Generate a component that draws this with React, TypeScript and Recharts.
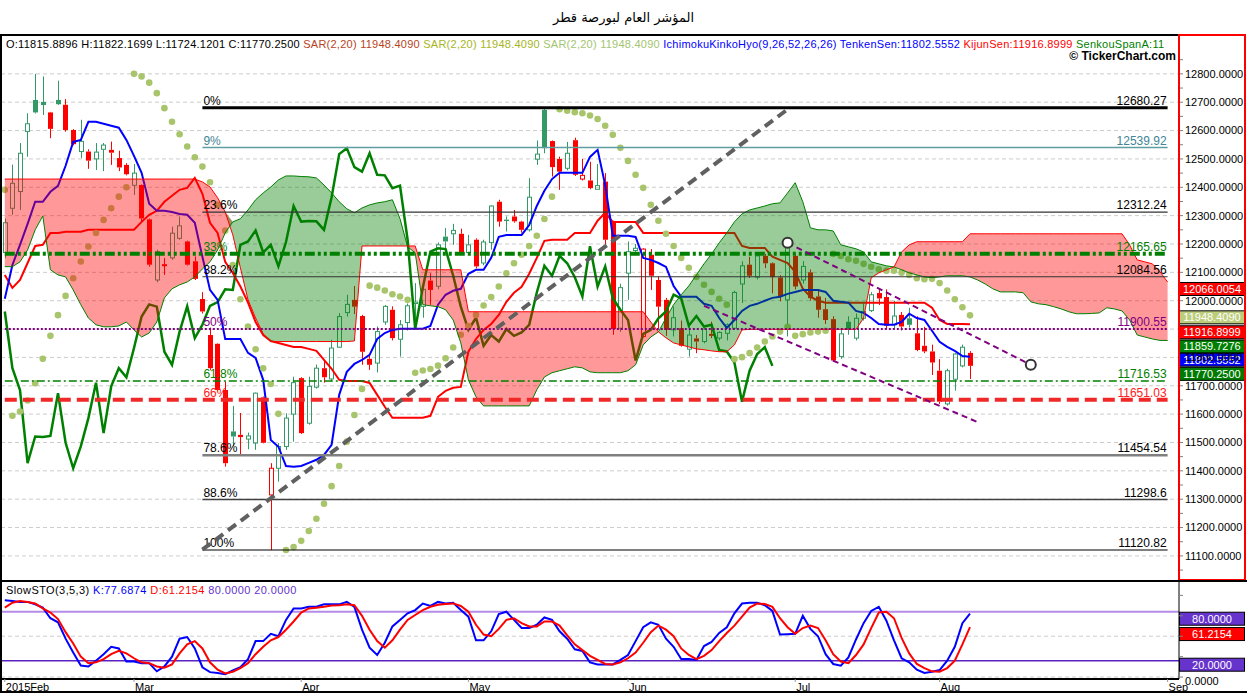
import React from "react";
import {
  ComposedChart,
  Bar,
  Line,
  Area,
  Scatter,
  XAxis,
  YAxis,
  CartesianGrid,
  ReferenceLine,
  ReferenceDot,
} from "recharts";

const FONT = '"Liberation Sans", Arial, sans-serif';
const GREEN = "#339966";
const RED = "#ff0000";

// daily candles, Feb 2015 - Aug 2015
const opens = [
  12170, 12326, 12385, 12597, 12708, 12701, 12664, 12708, 12691, 12602,
  12526, 12526, 12500, 12534, 12532, 12503, 12479, 12407, 12408, 12287,
  12073, 12125, 12151, 12220, 12209, 12139, 12006, 11879, 11848, 11685,
  11539, 11527, 11512, 11498, 11659, 11315, 11409, 11486, 11600, 11727,
  11568, 11695, 11762, 11724, 11836, 11958, 12003, 11946, 11795, 11780,
  11925, 11968, 11864, 11923, 11990, 11980, 12071, 12051, 12226, 12236,
  12236, 12170, 12215, 12133, 12205, 12349, 12286, 12297, 12279, 12250,
  12499, 12673, 12563, 12500, 12467, 12566, 12429, 12424, 12393, 12420,
  12279, 11903, 12097, 12177, 11874, 12162, 12073, 12003, 11897, 11903,
  11829, 11867, 11856, 11883, 11868, 11885, 11903, 12059, 12127, 12083,
  12158, 12132, 12082, 12003, 12158, 12073, 12100, 12015, 11970, 11935,
  11803, 11926, 11868, 11938, 11965, 12027, 12013, 11915, 11950, 11938,
  11885, 11841, 11821, 11753, 11636, 11723, 11770, 11815.89,
];
const highs = [
  12290, 12480, 12556, 12661, 12800, 12791, 12666, 12776, 12711, 12605,
  12638, 12534, 12556, 12556, 12561, 12529, 12485, 12482, 12410, 12290,
  12180, 12151, 12261, 12297, 12212, 12156, 12030, 11905, 11850, 11715,
  11629, 11604, 11535, 11676, 11662, 11427, 11498, 11603, 11732, 11730,
  11732, 11775, 11791, 11862, 11956, 12021, 12052, 11950, 11809, 11909,
  11985, 11980, 11932, 11990, 12062, 12062, 12097, 12205, 12256, 12271,
  12254, 12232, 12220, 12215, 12336, 12356, 12297, 12320, 12282, 12432,
  12565, 12680.27, 12565, 12508, 12560, 12575, 12500, 12490, 12482, 12450,
  12282, 12060, 12209, 12200, 12185, 12182, 12085, 12010, 11979, 11930,
  11921, 11879, 11905, 11926, 11892, 11920, 12035, 12139, 12155, 12165,
  12165, 12135, 12090, 12204, 12165, 12140, 12110, 12040, 12010, 11945,
  11900, 11945, 11955, 11990, 12030, 12040, 12040, 12000, 11960, 11975,
  11945, 11908, 11845, 11794, 11760, 11815, 11845, 11822.17,
];
const lows = [
  12150, 12303, 12320, 12508, 12660, 12655, 12573, 12690, 12596, 12548,
  12503, 12465, 12461, 12457, 12479, 12457, 12442, 12373, 12279, 12120,
  12065, 12091, 12144, 12215, 12124, 12073, 11955, 11755, 11680, 11415,
  11486, 11456, 11476, 11474, 11497, 11120.82, 11362, 11474, 11503, 11530,
  11563, 11690, 11711, 11715, 11833, 11944, 11953, 11774, 11756, 11747,
  11915, 11860, 11803, 11895, 11904, 11940, 11985, 12040, 12173, 12197,
  12165, 12162, 12114, 12125, 12180, 12261, 12244, 12275, 12240, 12244,
  12479, 12520, 12438, 12391, 12460, 12440, 12424, 12393, 12392, 12200,
  11880, 11890, 12003, 12160, 11870, 12038, 11903, 11876, 11874, 11838,
  11803, 11815, 11850, 11868, 11860, 11860, 11897, 11992, 12080, 12075,
  12115, 12026, 11998, 11874, 12040, 12060, 12000, 11940, 11918, 11785,
  11795, 11880, 11860, 11930, 11960, 11985, 11900, 11900, 11895, 11905,
  11822, 11815, 11738, 11636, 11630, 11683, 11765, 11724.12,
];
const closes = [
  12275, 12414, 12520, 12624, 12664, 12690, 12606, 12693, 12602, 12552,
  12562, 12494, 12524, 12549, 12522, 12470, 12446, 12450, 12290, 12127,
  12173, 12127, 12238, 12264, 12127, 12077, 11962, 11762, 11685, 11427,
  11521, 11519, 11523, 11674, 11499, 11409, 11486, 11586, 11711, 11533,
  11698, 11762, 11730, 11833, 11944, 11987, 11979, 11820, 11774, 11891,
  11980, 11868, 11915, 11982, 11995, 12040, 12038, 12197, 12209, 12248,
  12170, 12197, 12121, 12207, 12334, 12279, 12281, 12280, 12250, 12365,
  12517, 12538, 12471, 12455, 12520, 12444, 12442, 12397, 12406, 12215,
  11900, 12046, 12173, 12185, 12182, 12088, 11979, 11897, 11940, 11841,
  11879, 11856, 11900, 11876, 11888, 11915, 12029, 12123, 12088, 12158,
  12132, 12083, 12015, 12192, 12050, 12121, 12009, 11968, 11932, 11789,
  11883, 11897, 11938, 11962, 12021, 12008, 11912, 11946, 11909, 11915,
  11826, 11821, 11782, 11644, 11753, 11812, 11836, 11770.25,
];

const tenkan = [
  12007, 12126, 12197, 12271, 12349, 12349, 12384, 12405, 12476, 12560,
  12567, 12631, 12631, 12624, 12617, 12610, 12567, 12511, 12451, 12342,
  12317, 12317, 12313, 12306, 12303, 12275, 12155, 12038, 12003, 11865,
  11865, 11865, 11816, 11798, 11721, 11509, 11485, 11417, 11414, 11417,
  11428, 11439, 11456, 11492, 11668, 11749, 11777, 11791, 11809, 11865,
  11886, 11897, 11901, 11901, 11901, 11901, 11911, 11986, 12021, 12035,
  12042, 12095, 12109, 12109, 12151, 12225, 12232, 12232, 12232, 12267,
  12334, 12388, 12429, 12451, 12451, 12451, 12451, 12507, 12532, 12408,
  12229, 12229, 12229, 12225, 12151, 12144, 12133, 12119, 12052, 12014,
  12014, 12014, 11989, 11982, 11939, 11904, 11932, 11964, 11982, 11989,
  12000, 12010, 12014, 12024, 12031, 12038, 12038, 12038, 12031, 12000,
  11996, 11993, 11964, 11957, 11939, 11918, 11915, 11915, 11925, 11954,
  11939, 11932, 11894, 11855, 11837, 11823, 11805, 11802.56,
];
const kijun = [
  12091, 12045, 12073, 12133, 12193, 12197, 12239, 12239, 12243, 12243,
  12243, 12250, 12250, 12250, 12250, 12250, 12250, 12250, 12278, 12303,
  12317, 12349, 12370, 12391, 12398, 12433, 12377, 12275, 12239, 12137,
  12098, 12050, 11993, 11925, 11879, 11858, 11851, 11844, 11837, 11837,
  11830, 11823, 11791, 11760, 11721, 11717, 11717, 11717, 11710, 11668,
  11626, 11587, 11587, 11587, 11587, 11587, 11594, 11661, 11682, 11693,
  11696, 11820, 11865, 11897, 11918, 11950, 11996, 12028, 12049, 12095,
  12151, 12211, 12215, 12215, 12215, 12239, 12239, 12239, 12282, 12310,
  12278, 12278, 12278, 12278, 12239, 12239, 12239, 12239, 12239, 12239,
  12239, 12239, 12239, 12239, 12239, 12239, 12239, 12193, 12186, 12186,
  12186, 12155, 12144, 12133, 12102, 12042, 12014, 12000, 11993, 11993,
  11993, 11993, 11993, 11993, 11993, 11993, 11993, 11993, 11993, 11993,
  11993, 11993, 11975, 11932, 11918, 11918, 11918, 11916.9,
];
// senkou spans, already shifted 26 bars forward
const spanA = [
  12120, 12120, 12137, 12179, 12250, 12299, 12109, 12091, 12084, 12038,
  11986, 11939, 11915, 11908, 11908, 11911, 11925, 11897, 11872, 11886,
  11925, 12010, 12042, 12056, 12066, 12084, 12112, 12137, 12179, 12239,
  12278, 12289, 12320, 12356, 12380, 12401, 12426, 12440, 12440, 12438,
  12437, 12433, 12408, 12380, 12349, 12324, 12310, 12327, 12338, 12345,
  12349, 12356, 12289, 12190, 12169, 11986, 11982, 11979, 11968, 11932,
  11851, 11721, 11661, 11629, 11629, 11629, 11629, 11629, 11629, 11629,
  11686, 11731, 11746, 11753, 11760, 11767, 11763, 11749, 11746, 11746,
  11746, 11746, 11753, 11774, 11844, 11872, 11890, 11939, 11986, 12021,
  12052, 12091, 12130, 12165, 12204, 12239, 12278, 12306, 12320, 12327,
  12334, 12342, 12345, 12380, 12416, 12349, 12257, 12250, 12250, 12246,
  12197, 12190, 12183, 12172, 12137, 12130, 12123, 12119, 12109, 12098,
  12091, 12084, 12081, 12084, 12088, 12088, 12088, 12084, 12073, 12059,
  12042, 12031, 12031, 12031, 12028, 11996, 11989, 11986, 11979, 11971,
  11961, 11954, 11954, 11955, 11957, 11975, 11971, 11964, 11932, 11879,
  11872, 11865, 11860, 11859.73,
];
const spanB = [
  12429, 12429, 12429, 12429, 12429, 12429, 12429, 12429, 12429, 12429,
  12429, 12429, 12429, 12429, 12429, 12429, 12429, 12429, 12429, 12429,
  12429, 12429, 12429, 12429, 12429, 12429, 12419, 12401, 12363, 12313,
  12232, 12116, 12003, 11939, 11883, 11856, 11856, 11856, 11856, 11856,
  11856, 11856, 11856, 11856, 11856, 11856, 11858, 12193, 12193, 12193,
  12193, 12193, 12193, 12193, 12193, 12109, 12109, 12109, 12109, 12109,
  12109, 11961, 11961, 11961, 11961, 11961, 11961, 11961, 11961, 11961,
  11961, 11961, 11961, 11961, 11961, 11961, 11961, 11961, 11961, 11961,
  11961, 11961, 11961, 11961, 11961, 11925, 11890, 11869, 11851, 11844,
  11837, 11830, 11827, 11823, 11820, 11820, 11844, 11897, 11899, 11899,
  11899, 11899, 11899, 11899, 11899, 11899, 11899, 11899, 11899, 11899,
  11899, 11899, 11899, 11939, 12081, 12098, 12109, 12119, 12172, 12197,
  12208, 12208, 12208, 12208, 12208, 12208, 12208, 12236, 12236, 12236,
  12236, 12236, 12236, 12236, 12236, 12236, 12236, 12236, 12236, 12236,
  12236, 12236, 12236, 12236, 12236, 12236, 12236, 12236, 12197, 12144,
  12137, 12130, 12102, 12066.01,
];
const sar = [
  12391, 11594, 11609, 11648, 11709, 11795, 11876, 11949, 12017, 12079,
  12138, 12191, 12239, 12285, 12326, 12367, 12400, 12800, 12791, 12769,
  12732, 12679, 12631, 12587, 12544, 12506, 12473, 12418, 12338, 12247,
  12126, 12005, 11909, 11829, 11762, 11706, 11601, 11121, 11131, 11153,
  11188, 11231, 11284, 11346, 11417, 11503, 11597, 11689, 12053, 12046,
  12036, 12023, 12015, 12003, 11746, 11754, 11759, 11771, 11797, 11835,
  11880, 11911, 11950, 11983, 12013, 12050, 12097, 12132, 12162, 12193,
  12229, 12288, 12367, 12675, 12670, 12665, 12661, 12653, 12641, 12617,
  12585, 12539, 12493, 12444, 12398, 12338, 12282, 12236, 12193, 12151,
  12116, 12084, 12056, 12031, 12007, 11986, 11794, 11801, 11815, 11835,
  11856, 11874, 11891, 11908, 11876, 11882, 11888, 11891, 11894, 12165,
  12158, 12146, 12141, 12130, 12120, 12111, 12106, 12106, 12099, 12091,
  12079, 12076, 12077, 12062, 12036, 12005, 11977, 11948.41,
];

const stochK = [
  94, 93, 92, 92, 89, 85, 72, 67, 47, 30,
  14, 13, 20, 28, 37, 35, 19, 19, 17, 17,
  7, 13, 25, 47, 49, 35, 12, 6, 5, 3.5,
  8, 12, 22, 44, 44, 53, 50, 70, 84, 84,
  86, 86, 89, 89, 89, 92, 86, 58, 36, 27,
  42, 62, 70, 78, 82, 90, 87, 92, 90, 91,
  82, 74, 45, 45, 56, 77, 80, 70, 60, 60,
  64, 73, 70, 56, 47, 34, 32, 18, 15.5, 15.5,
  15.5, 21, 27, 44, 61, 67, 64, 47, 37, 22,
  22, 21, 38, 43, 54, 61, 78, 90, 91, 91,
  88, 81, 52, 52.5, 53, 75, 59, 50, 28, 16,
  14, 24, 46, 66, 81, 86, 69, 45, 23, 18,
  9, 5, 6.5, 8.5, 20, 37, 66, 77.6874,
];
const stochD = [
  85, 91, 93, 92, 90, 84, 79, 71, 55, 41,
  25, 17, 18, 22, 28, 32, 29, 23, 18, 17,
  13, 11.5, 15.5, 29, 40, 44, 35, 18, 9, 4.5,
  6.5, 11, 17, 28, 37, 45, 49, 58, 68, 79,
  84, 85, 86, 87.5, 88, 89, 88, 75, 58, 44,
  36, 45, 58, 70, 76, 82, 86, 88.5, 89.5, 90.2,
  87, 80, 64, 52, 50, 59, 70, 72, 66, 62,
  62, 68, 68, 63, 51, 40, 33, 26, 21, 16,
  15.5, 18, 23, 30, 42, 55, 63, 58, 50, 35,
  27, 22, 26, 33, 44, 54, 63, 74, 85, 90,
  89.5, 86, 72, 61, 53, 60, 63, 60, 45, 28,
  19, 17, 27, 40, 60, 79, 80, 72, 48, 29,
  16, 11, 7, 6.5, 11, 20, 40, 61.2154,
];

const monthTicks = [0, 17, 39, 61, 82, 104, 123, 153];
const monthLabels = ["2015Feb", "Mar", "Apr", "May", "Jun", "Jul", "Aug", "Sep"];

const priceTicks = [
  11050, 11100, 11150, 11200, 11250, 11300, 11350, 11400, 11450, 11500,
  11550, 11600, 11650, 11700, 11750, 11800, 11850, 11900, 11950, 12000,
  12050, 12100, 12150, 12200, 12250, 12300, 12350, 12400, 12450, 12500,
  12550, 12600, 12650, 12700, 12750, 12800, 12850,
];
const priceGrid = [
  11100, 11200, 11300, 11400, 11500, 11600, 11700, 11800, 11900, 12000,
  12100, 12200, 12300, 12400, 12500, 12600, 12700, 12800,
];
// labels that sit fully under the last-value boxes are not drawn
const hiddenPriceLabels = [11900];

const fibPercents = ["0%", "9%", "23.6%", "33%", "38.2%", "50%", "61.8%", "66%", "78.6%", "88.6%", "100%"];
const fibValues = [12680.27, 12539.92, 12312.24, 12165.65, 12084.56, 11900.55, 11716.53, 11651.03, 11454.54, 11298.6, 11120.82];
const fibStart = 26;
const fibEnd = 153;

const fibStyles = [
  { stroke: "#000000", width: 3, dash: undefined, text: "#000000", wide: false },
  { stroke: "#5f9ea0", width: 1.5, dash: undefined, text: "#3f8595", wide: false },
  { stroke: "#333333", width: 1.2, dash: undefined, text: "#000000", wide: false },
  { stroke: "#008000", width: 4, dash: "10 3 3 3 3 3", text: "#008000", wide: true },
  { stroke: "#333333", width: 1.2, dash: undefined, text: "#000000", wide: false },
  { stroke: "#800080", width: 2, dash: "2 2", text: "#800080", wide: true },
  { stroke: "#008000", width: 1.5, dash: "8 3 2 3", text: "#008000", wide: true },
  { stroke: "#f02828", width: 4, dash: "12 6", text: "#ff2020", wide: true },
  { stroke: "#808080", width: 2.5, dash: undefined, text: "#000000", wide: false },
  { stroke: "#404040", width: 1.5, dash: undefined, text: "#000000", wide: false },
  { stroke: "#000000", width: 1.2, dash: undefined, text: "#000000", wide: false },
];

// trend lines: [index, price]
const trendFrom = [[26, 11122], [103, 12204], [92, 11982]];
const trendTo = [[103, 12675], [135, 11774], [128, 11572]];
const trendStyles = [
  { stroke: "#606060", width: 4, dash: "10 6" },
  { stroke: "#800080", width: 2, dash: "6 4" },
  { stroke: "#800080", width: 2, dash: "6 4" },
];
const anchorPoints = [[103, 12204], [135, 11774]];

const lastValues = [12066.0054, 11948.409, 11916.8999, 11859.7276, 11802.5552, 11770.25];
const lastColors = ["#ff0000", "#bccd7c", "#ff0000", "#008000", "#0000ff", "#007a00"];
// vertical nudge of each price box so the boxes stack without covering each other
const lastNudge = [0, -5, 1, -1, -4, 1];

const rows = Array.from({ length: 155 }, (_, i) => ({
  i,
  o: opens[i] ?? null,
  h: highs[i] ?? null,
  l: lows[i] ?? null,
  c: closes[i] ?? null,
  pc: i > 0 ? closes[i - 1] ?? null : null,
  tenkan: tenkan[i] ?? null,
  kijun: kijun[i] ?? null,
  chikou: closes[i + 26] ?? null,
  a: spanA[i] ?? null,
  b: spanB[i] ?? null,
  sar: sar[i] ?? null,
  k: stochK[i] ?? null,
  d: stochD[i] ?? null,
}));

const candleRange = (r: any) => (r.h == null ? null : [r.l, r.h]);
const greenCloud = (r: any) => (r.a == null ? null : [r.b, Math.max(r.a, r.b)]);
const redCloud = (r: any) => (r.a == null ? null : [r.a, Math.max(r.a, r.b)]);

function Candle(props: any) {
  const { x, y, width, height, payload } = props;
  if (!payload || payload.o == null || !Number.isFinite(y) || !Number.isFinite(height)) return <g />;
  const { o, h, l, c, pc } = payload;
  const top = Math.min(y, y + height);
  const bottom = Math.max(y, y + height);
  const span = h - l;
  const py = (v: number) => (span > 0 ? top + ((h - v) / span) * (bottom - top) : top);
  const hollow = c >= o;
  const color = pc == null || c >= pc ? GREEN : RED;
  const cx = Math.round(x + width / 2) + 0.5;
  const yo = py(o);
  const yc = py(c);
  const bt = Math.min(yo, yc);
  const bh = Math.max(Math.abs(yo - yc), 1);
  const bw = 5;
  return (
    <g>
      <line x1={cx} x2={cx} y1={py(h)} y2={bt} stroke={color} strokeWidth={1} />
      <line x1={cx} x2={cx} y1={bt + bh} y2={py(l)} stroke={color} strokeWidth={1} />
      {hollow ? (
        <rect x={cx - 2} y={bt} width={bw - 1} height={Math.max(bh, 1)} fill="none" stroke={color} strokeWidth={1} />
      ) : (
        <rect x={cx - 2.5} y={bt} width={bw} height={bh} fill={color} />
      )}
    </g>
  );
}

const SarDot = (p: any) =>
  p.payload?.sar == null || !Number.isFinite(p.cy) ? <g /> : <circle cx={p.cx} cy={p.cy} r={3.3} fill="#a9c56b" />;

const fibLabel = (j: number) => (p: any) => {
  const vb = p.viewBox;
  if (!vb || vb.x == null) return null;
  const s = fibStyles[j];
  return (
    <g>
      <text x={vb.x + 1} y={vb.y - 3} fill={s.text} fontSize={12} fontFamily={FONT}>
        {fibPercents[j]}
      </text>
      <text x={vb.x + vb.width - 1} y={vb.y - 3} textAnchor="end" fill={s.text} fontSize={12} fontFamily={FONT}>
        {String(fibValues[j])}
      </text>
    </g>
  );
};

const valueBox = (text: string, bg: string, dy = 0) => (p: any) => {
  const vb = p.viewBox;
  if (!vb || vb.x == null) return null;
  const x = vb.x + vb.width;
  const y = vb.y + dy;
  return (
    <g>
      <rect x={x + 0.5} y={y + 0.5} width={65} height={13} fill={bg} stroke="#000" strokeWidth={1} />
      <text x={x + 33} y={y + 11} textAnchor="middle" fill="#fff" fontSize={11} fontFamily={FONT}>
        {text}
      </text>
    </g>
  );
};

const MonthTick = (p: any) => {
  const idx = monthTicks.indexOf(p.payload?.value);
  return (
    <text x={p.x + 1} y={p.y + 9} fontSize={11} fontFamily={FONT} fill="#000">
      {monthLabels[idx] ?? ""}
    </text>
  );
};

function MainPane() {
  return (
    <ComposedChart width={1247} height={580} data={rows} margin={{ top: 37, right: 0, bottom: 0, left: 1 }}>
      <CartesianGrid vertical={false} horizontalValues={priceGrid} stroke="#cccccc" strokeDasharray="4 3" />
      <XAxis dataKey="i" type="category" scale="band" hide />
      <YAxis
        orientation="right"
        width={68}
        domain={[11015, 12930]}
        allowDataOverflow
        ticks={priceTicks}
        interval={0}
        tickSize={4}
        tickMargin={2}
        axisLine={{ stroke: "#ff0000", strokeWidth: 2 }}
        tickLine={{ stroke: "#808080" }}
        tick={{ fontSize: 11, fill: "#000", fontFamily: FONT }}
        tickFormatter={(v: number) =>
          v % 100 === 0 && v >= 11100 && v <= 12800 && !hiddenPriceLabels.includes(v) ? v.toFixed(4) : ""
        }
      />
      <Bar dataKey={candleRange} barSize={5} shape={(p: any) => <Candle {...p} />} isAnimationActive={false} />
      <Line dataKey="chikou" stroke="#008000" strokeWidth={2.5} dot={false} type="linear" isAnimationActive={false} />
      <Line dataKey="kijun" stroke="#ff0000" strokeWidth={2} dot={false} type="linear" isAnimationActive={false} />
      <Line dataKey="tenkan" stroke="#0000ff" strokeWidth={2} dot={false} type="linear" isAnimationActive={false} />
      <Scatter dataKey="sar" shape={SarDot} isAnimationActive={false} />
      <Area dataKey={redCloud} type="linear" fill="#ff0000" fillOpacity={0.4} stroke="none" isAnimationActive={false} zIndex={650} />
      <Area dataKey={greenCloud} type="linear" fill="#008000" fillOpacity={0.4} stroke="none" isAnimationActive={false} zIndex={650} />
      <Line dataKey="a" stroke="#008000" strokeWidth={1} dot={false} type="linear" isAnimationActive={false} zIndex={660} />
      <Line dataKey="b" stroke="#ff0000" strokeWidth={1} dot={false} type="linear" isAnimationActive={false} zIndex={660} />
      {fibValues.map((v, j) =>
        fibStyles[j].wide ? (
          <ReferenceLine
            key={"w" + j}
            segment={[{ x: 0, y: v }, { x: fibEnd, y: v }]}
            stroke={fibStyles[j].stroke}
            strokeWidth={fibStyles[j].width}
            strokeDasharray={fibStyles[j].dash}
            zIndex={700}
          />
        ) : null
      )}
      {fibValues.map((v, j) => (
        <ReferenceLine
          key={"f" + j}
          segment={[{ x: fibStart, y: v }, { x: fibEnd, y: v }]}
          stroke={fibStyles[j].wide ? "none" : fibStyles[j].stroke}
          strokeWidth={fibStyles[j].width}
          strokeDasharray={fibStyles[j].dash}
          label={fibLabel(j)}
          zIndex={700}
        />
      ))}
      {trendFrom.map((f, j) => (
        <ReferenceLine
          key={"t" + j}
          segment={[{ x: f[0], y: f[1] }, { x: trendTo[j][0], y: trendTo[j][1] }]}
          stroke={trendStyles[j].stroke}
          strokeWidth={trendStyles[j].width}
          strokeDasharray={trendStyles[j].dash}
          zIndex={710}
        />
      ))}
      {anchorPoints.map((p, j) => (
        <ReferenceDot key={"d" + j} x={p[0]} y={p[1]} r={5} fill="#ffffff" stroke="#333333" strokeWidth={2} zIndex={720} />
      ))}
      {lastValues.map((v, j) => (
        <ReferenceLine
          key={"v" + j}
          y={v}
          stroke="none"
          label={valueBox(v.toFixed(4), lastColors[j], lastNudge[j])}
          zIndex={730}
        />
      ))}
    </ComposedChart>
  );
}

function StochPane() {
  return (
    <ComposedChart width={1247} height={111} data={rows} margin={{ top: 0, right: 0, bottom: 0, left: 1 }}>
      <CartesianGrid vertical={false} horizontalValues={[0, 50]} stroke="#cccccc" strokeDasharray="4 3" />
      <XAxis
        dataKey="i"
        type="category"
        scale="band"
        height={14}
        ticks={monthTicks}
        interval={0}
        tickSize={3}
        tickMargin={0}
        axisLine={{ stroke: "#000", strokeWidth: 2 }}
        tickLine={{ stroke: "#999" }}
        tick={MonthTick}
      />
      <YAxis
        orientation="right"
        width={68}
        domain={[-2.4, 116.4]}
        allowDataOverflow
        ticks={[0, 25, 50, 75, 100]}
        interval={0}
        tickSize={4}
        tickMargin={2}
        axisLine={{ stroke: "#000", strokeWidth: 1 }}
        tickLine={{ stroke: "#808080" }}
        tick={{ fontSize: 11, fill: "#000", fontFamily: FONT, dy: 4 }}
        tickFormatter={(v: number) => (v === 0 ? "0.0000" : "")}
      />
      <ReferenceLine y={80} stroke="#b48be6" strokeWidth={2} />
      <ReferenceLine y={20} stroke="#5a22c0" strokeWidth={1.5} />
      <Line dataKey="k" stroke="#0000ff" strokeWidth={2} dot={false} type="linear" isAnimationActive={false} />
      <Line dataKey="d" stroke="#ff0000" strokeWidth={2} dot={false} type="linear" isAnimationActive={false} />
      <ReferenceLine y={80} stroke="none" label={valueBox("80.0000", "#6633cc")} />
      <ReferenceLine y={61.2154} stroke="none" label={valueBox("61.2154", "#ff0000")} />
      <ReferenceLine y={20} stroke="none" label={valueBox("20.0000", "#6633cc", -3)} />
    </ComposedChart>
  );
}

const abs = (s: React.CSSProperties): React.CSSProperties => ({ position: "absolute", ...s });

export default function App() {
  return (
    <div style={abs({ left: 0, top: 0, width: 1247, height: 693, background: "#fff", overflow: "hidden", fontFamily: FONT })}>
      <div style={abs({ top: 9, left: 0, width: 1247, textAlign: "center", fontFamily: '"DejaVu Sans", sans-serif', fontSize: 13, lineHeight: "18px", color: "#000" })}>
        المؤشر العام لبورصة قطر
      </div>
      <div style={abs({ top: 0, left: 0 })}>
        <MainPane />
      </div>
      <div style={abs({ top: 582, left: 0 })}>
        <StochPane />
      </div>
      <div style={abs({ top: 37, left: 6, height: 14, whiteSpace: "nowrap", fontSize: 11, lineHeight: "14px", letterSpacing: "0.25px" })}>
        <span style={{ color: "#000" }}>O:11815.8896 H:11822.1699 L:11724.1201 C:11770.2500 </span>
        <span style={{ color: "#b8431e" }}>SAR(2,20) 11948.4090 </span>
        <span style={{ color: "#a6b51e" }}>SAR(2,20) 11948.4090 </span>
        <span style={{ color: "#a3c470" }}>SAR(2,20) 11948.4090 </span>
        <span style={{ color: "#0000ff" }}>IchimokuKinkoHyo(9,26,52,26,26) TenkenSen:11802.5552 </span>
        <span style={{ color: "#ff0000" }}>KijunSen:11916.8999 </span>
        <span style={{ color: "#008000" }}>SenkouSpanA:11</span>
      </div>
      <div style={abs({ top: 49, right: 71, fontSize: 12, lineHeight: "14px", fontWeight: "bold", color: "#000" })}>
        © TickerChart.com
      </div>
      <div style={abs({ top: 584, left: 6, fontSize: 11, lineHeight: "13px", whiteSpace: "nowrap", letterSpacing: "0.4px" })}>
        <span style={{ color: "#000" }}>SlowSTO(3,5,3) </span>
        <span style={{ color: "#0000ff" }}>K:77.6874 </span>
        <span style={{ color: "#ff0000" }}>D:61.2154 </span>
        <span style={{ color: "#6633cc" }}>80.0000 20.0000</span>
      </div>
      <div style={abs({ top: 34, left: 0, width: 1179, height: 2, background: "#000" })} />
      <div style={abs({ top: 34, left: 0, width: 2, height: 659, background: "#000" })} />
      <div style={abs({ top: 34, left: 1178, width: 68, height: 547, border: "2px solid #ff0000", boxSizing: "border-box" })} />
      <div style={abs({ top: 580, left: 0, width: 1247, height: 2, background: "#000" })} />
      <div style={abs({ top: 691, left: 0, width: 1247, height: 2, background: "#000" })} />
    </div>
  );
}
